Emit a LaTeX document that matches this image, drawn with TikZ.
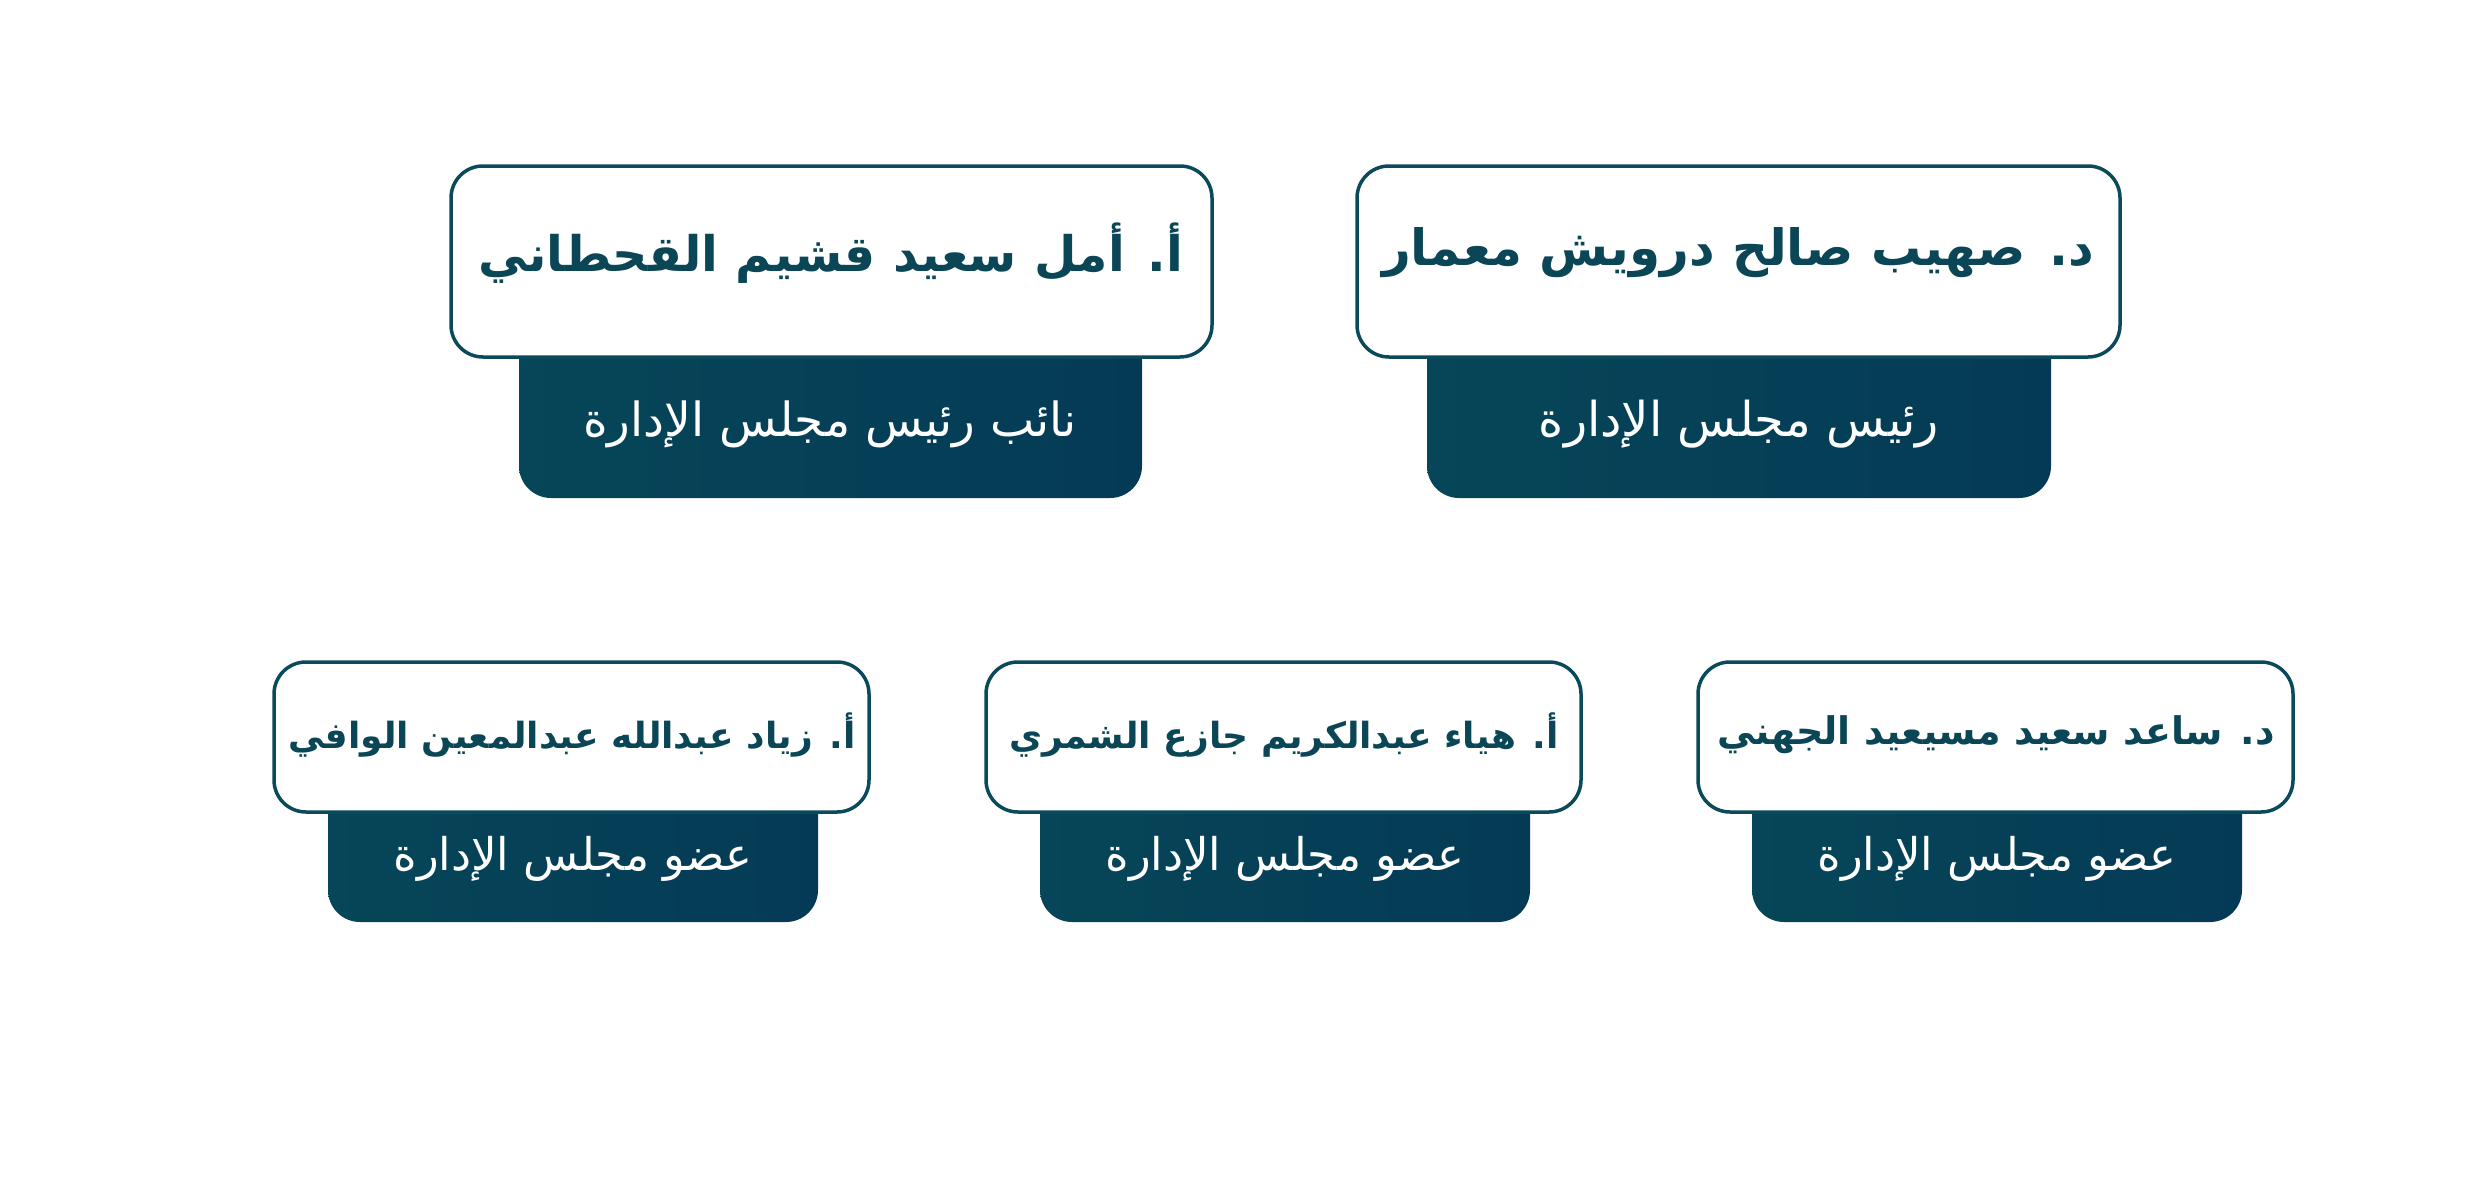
\documentclass[tikz,border=0pt]{standalone}
\usepackage{fontspec}
\TeXXeTstate=1
\newfontfamily\arb[Script=Arabic]{DejaVu Sans}
\definecolor{bordc}{HTML}{0B4A5A}
\definecolor{namec}{HTML}{0A4656}
\definecolor{gradl}{HTML}{064658}
\definecolor{gradr}{HTML}{053A56}
\tikzset{
  namebox/.style={draw=bordc, line width=3.5pt, fill=white, rounded corners=32pt, inner sep=0pt, rectangle},
  rolebox/.style={left color=gradl, right color=gradr, rounded corners=32pt, inner sep=0pt, rectangle, draw=none},
  txt/.style={inner sep=0pt},
  bigname/.style={txt, text=namec, font=\arb\bfseries\fontsize{50}{56}\selectfont},
  smallname/.style={txt, text=namec, font=\arb\bfseries\fontsize{37}{42}\selectfont},
  bigrole/.style={txt, text=white, font=\arb\fontsize{48}{54}\selectfont},
  smallrole/.style={txt, text=white, font=\arb\fontsize{45}{50}\selectfont},
}
\begin{document}
\begin{tikzpicture}[x=1pt,y=-1pt]
\useasboundingbox (0,0) rectangle (2480,1196);
% top row
\node[rolebox, minimum width=624pt, minimum height=238pt] (r1) at (1739,379) {};
\node[rolebox, minimum width=623pt, minimum height=238pt] (r2) at (830.5,379) {};
\node[namebox, minimum width=763pt, minimum height=191pt] (b1) at (1738.5,261.5) {};
\node[namebox, minimum width=761pt, minimum height=191pt] (b2) at (831.5,261.5) {};
\node[bigname] (n1) at (1738,253) {\beginR د. صهيب صالح درويش معمار\endR};
\node[bigname, font=\arb\bfseries\fontsize{49}{55}\selectfont] (n2) at (831,253) {\beginR أ. أمل سعيد قشيم القحطاني\endR};
\node[bigrole] (t1) at (1739,424) {\beginR رئيس مجلس الإدارة\endR};
\node[bigrole, font=\arb\fontsize{47}{53}\selectfont] (t2) at (830,424) {\beginR نائب رئيس مجلس الإدارة\endR};
% bottom row
\node[rolebox, minimum width=490pt, minimum height=182pt] (r3) at (1997,831) {};
\node[rolebox, minimum width=490pt, minimum height=182pt] (r4) at (1285,831) {};
\node[rolebox, minimum width=490pt, minimum height=182pt] (r5) at (573,831) {};
\node[namebox, minimum width=595pt, minimum height=150pt] (b3) at (1995.5,737) {};
\node[namebox, minimum width=595pt, minimum height=150pt] (b4) at (1283.5,737) {};
\node[namebox, minimum width=595pt, minimum height=150pt] (b5) at (571.5,737) {};
\node[smallname, font=\arb\bfseries\fontsize{38}{43}\selectfont] (n3) at (1996,735) {\beginR د. ساعد سعيد مسيعيد الجهني\endR};
\node[smallname, font=\arb\bfseries\fontsize{36}{41}\selectfont] (n4) at (1284,735) {\beginR أ. هياء عبدالكريم جازع الشمري\endR};
\node[smallname, font=\arb\bfseries\fontsize{36}{41}\selectfont] (n5) at (572,735) {\beginR أ. زياد عبدالله عبدالمعين الوافي\endR};
\node[smallrole] (t3) at (1997,859) {\beginR عضو مجلس الإدارة\endR};
\node[smallrole] (t4) at (1285,859) {\beginR عضو مجلس الإدارة\endR};
\node[smallrole] (t5) at (573,859) {\beginR عضو مجلس الإدارة\endR};
\end{tikzpicture}
\end{document}
